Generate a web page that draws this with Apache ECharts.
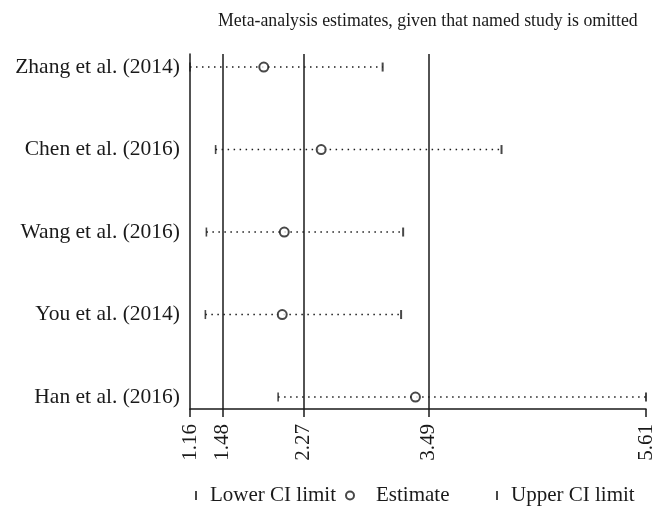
<!DOCTYPE html>
<html>
<head>
<meta charset="utf-8">
<script src="https://cdn.jsdelivr.net/npm/echarts@6/dist/echarts.min.js"></script>
<style>html,body{margin:0;padding:0;background:#fff;}#c{width:666px;height:519px;}</style>
</head>
<body>
<div id="c"></div>
<script>
const studies = ['Zhang et al. (2014)', 'Chen et al. (2016)', 'Wang et al. (2016)', 'You et al. (2014)', 'Han et al. (2016)'];
const lowerCI = [1.16, 1.41, 1.32, 1.31, 2.02];
const estimate = [1.88, 2.44, 2.08, 2.06, 3.36];
const upperCI = [3.04, 4.20, 3.24, 3.22, 5.61];
const tickValues = [1.16, 1.48, 2.27, 3.49, 5.61];
const tickLabels = ['1.16', '1.48', '2.27', '3.49', '5.61'];
const refLines = [1.48, 2.27, 3.49];

const INK = '#1a1a1a';
const FONT = '"Liberation Serif", "DejaVu Serif", serif';
const n = studies.length;
const rowY = i => n - i;

const chart = echarts.init(document.getElementById('c'), null, {renderer: 'canvas'});
const barIcon = 'path://M0,0 L2,0 L2,9 L0,9 Z';
const legendText = {fontFamily: FONT, fontSize: 21, color: INK};

chart.setOption({
  animation: false,
  backgroundColor: '#fff',
  title: {
    text: 'Meta-analysis estimates, given that named study is omitted',
    left: 213, top: 7,
    textStyle: {fontFamily: FONT, fontSize: 17.8, fontWeight: 'normal', color: INK}
  },
  grid: {left: 190, right: 20, top: 54, bottom: 110},
  legend: [
    {left: 190, top: 480, itemWidth: 18, itemHeight: 9, data: [{name: 'Lower CI limit', icon: barIcon}], textStyle: legendText},
    {left: 340, top: 480, itemWidth: 42, itemHeight: 8, data: [{name: 'Estimate', icon: 'emptyCircle'}], textStyle: legendText},
    {left: 491, top: 480, itemWidth: 18, itemHeight: 9, data: [{name: 'Upper CI limit', icon: barIcon}], textStyle: legendText}
  ],
  xAxis: {
    type: 'value', min: tickValues[0], max: tickValues[tickValues.length - 1],
    axisLine: {show: true, onZero: false, lineStyle: {color: INK, width: 1.5}},
    axisTick: {show: true, length: 8, lineStyle: {color: INK, width: 1.5}, customValues: tickValues},
    axisLabel: {
      customValues: tickValues, rotate: 90, margin: 15,
      formatter: v => { const k = tickValues.findIndex(t => Math.abs(t - v) < 1e-6); return k >= 0 ? tickLabels[k] : ''; },
      fontFamily: FONT, fontSize: 21, color: INK
    },
    splitLine: {show: false}
  },
  yAxis: {
    type: 'value', min: 0.855, max: 5.158,
    axisLine: {show: true, onZero: false, lineStyle: {color: INK, width: 1.5}},
    axisTick: {show: false},
    axisLabel: {
      customValues: studies.map((s, i) => rowY(i)), margin: 10,
      formatter: v => { const i = n - Math.round(v); return studies[i] || ''; },
      fontFamily: FONT, fontSize: 21.5, color: INK
    },
    splitLine: {show: false}
  },
  series: [
    {
      type: 'custom', name: 'CI', silent: true,
      data: studies.map((s, i) => [lowerCI[i], upperCI[i], rowY(i)]),
      encode: {x: [0, 1], y: 2},
      renderItem: (params, api) => {
        const y = api.value(2);
        const p1 = api.coord([api.value(0), y]);
        const p2 = api.coord([api.value(1), y]);
        return {type: 'line', shape: {x1: p1[0], y1: p1[1], x2: p2[0], y2: p2[1]},
          style: {stroke: INK, lineWidth: 1.6, lineDash: [1.5, 4.5], fill: null}};
      },
      markLine: {
        silent: true, symbol: ['none', 'none'], label: {show: false},
        lineStyle: {color: INK, type: 'solid', width: 1.5},
        data: refLines.map(v => ({xAxis: v}))
      }
    },
    {
      type: 'scatter', name: 'Lower CI limit', symbol: 'rect', symbolSize: [1.6, 9],
      itemStyle: {color: INK},
      data: studies.map((s, i) => [lowerCI[i], rowY(i)])
    },
    {
      type: 'scatter', name: 'Estimate', symbol: 'emptyCircle', symbolSize: 9,
      itemStyle: {color: INK, borderColor: INK, borderWidth: 2.2},
      data: studies.map((s, i) => [estimate[i], rowY(i)])
    },
    {
      type: 'scatter', name: 'Upper CI limit', symbol: 'rect', symbolSize: [2, 9], clip: false,
      itemStyle: {color: INK},
      data: studies.map((s, i) => [upperCI[i], rowY(i)])
    }
  ]
});
</script>
</body>
</html>
